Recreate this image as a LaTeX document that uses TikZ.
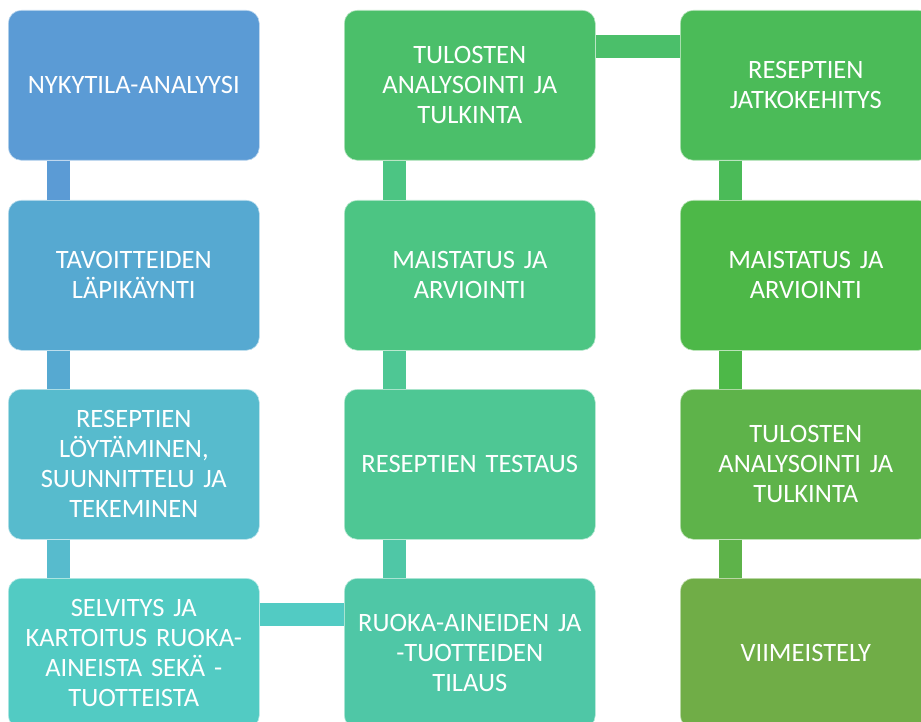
\documentclass[tikz,border=0pt]{standalone}
\usepackage{fontspec}
\setmainfont{Carlito}
\definecolor{stepA}{HTML}{5B9BD5}
\definecolor{stepB}{HTML}{56A9D1}
\definecolor{stepC}{HTML}{57BBCD}
\definecolor{stepD}{HTML}{52CBC3}
\definecolor{stepE}{HTML}{4FC7A6}
\definecolor{stepF}{HTML}{4EC794}
\definecolor{stepG}{HTML}{4CC583}
\definecolor{stepH}{HTML}{4BBF6A}
\definecolor{stepI}{HTML}{4BBB58}
\definecolor{stepJ}{HTML}{4DB848}
\definecolor{stepK}{HTML}{5EB34A}
\definecolor{stepL}{HTML}{70AD47}
\tikzset{
  stage/.style={fill=#1, draw=white!60!#1, line width=0.6pt, rounded corners=13pt,
    anchor=north west, minimum width=251pt, minimum height=150pt,
    text width=240pt, align=center, text=white, inner sep=0pt,
    font=\fontsize{26.5}{30}\selectfont},
  bar/.style={draw=#1, line width=23pt}
}

\begin{document}
\begin{tikzpicture}[x=1pt, y=-1pt]
    \useasboundingbox (0,0) rectangle (921,722);
    % Column 1, top to bottom
    \node[stage=stepA] (analyysi) at (8,10) {NYKYTILA-ANALYYSI};
    \node[stage=stepB] (tavoitteet) at (8,200) {TAVOITTEIDEN\\LÄPIKÄYNTI};
    \node[stage=stepC] (reseptit) at (8,389) {RESEPTIEN\\LÖYTÄMINEN,\\SUUNNITTELU JA\\TEKEMINEN};
    \node[stage=stepD] (selvitys) at (8,578) {SELVITYS JA\\KARTOITUS RUOKA-\\AINEISTA SEKÄ -\\TUOTTEISTA};
    % Column 2, bottom to top
    \node[stage=stepE] (tilaus) at (344,578) {RUOKA-AINEIDEN JA\\-TUOTTEIDEN\\TILAUS};
    \node[stage=stepF] (testaus) at (344,389) {RESEPTIEN TESTAUS};
    \node[stage=stepG] (maistatus) at (344,200) {MAISTATUS JA\\ARVIOINTI};
    \node[stage=stepH] (tulokset) at (344,10) {TULOSTEN\\ANALYSOINTI JA\\TULKINTA};
    % Column 3, top to bottom
    \node[stage=stepI] (jatko) at (680,10) {RESEPTIEN\\JATKOKEHITYS};
    \node[stage=stepJ] (maistatus2) at (680,200) {MAISTATUS JA\\ARVIOINTI};
    \node[stage=stepK] (tulokset2) at (680,389) {TULOSTEN\\ANALYSOINTI JA\\TULKINTA};
    \node[stage=stepL] (viimeistely) at (680,578) {VIIMEISTELY};
    % Bars between the boxes
    \draw[bar=stepA] ([xshift=50.5pt]analyysi.south west) -- ([xshift=50.5pt]tavoitteet.north west);
    \draw[bar=stepB] ([xshift=50.5pt]tavoitteet.south west) -- ([xshift=50.5pt]reseptit.north west);
    \draw[bar=stepC] ([xshift=50.5pt]reseptit.south west) -- ([xshift=50.5pt]selvitys.north west);
    \draw[bar=stepD] ([yshift=-36.5pt]selvitys.north east) -- ([yshift=-36.5pt]tilaus.north west);
    \draw[bar=stepE] ([xshift=50pt]tilaus.north west) -- ([xshift=50pt]testaus.south west);
    \draw[bar=stepF] ([xshift=50pt]testaus.north west) -- ([xshift=50pt]maistatus.south west);
    \draw[bar=stepG] ([xshift=50pt]maistatus.north west) -- ([xshift=50pt]tulokset.south west);
    \draw[bar=stepH] ([yshift=-36.5pt]tulokset.north east) -- ([yshift=-36.5pt]jatko.north west);
    \draw[bar=stepI] ([xshift=50pt]jatko.south west) -- ([xshift=50pt]maistatus2.north west);
    \draw[bar=stepJ] ([xshift=50pt]maistatus2.south west) -- ([xshift=50pt]tulokset2.north west);
    \draw[bar=stepK] ([xshift=50pt]tulokset2.south west) -- ([xshift=50pt]viimeistely.north west);
\end{tikzpicture}
\end{document}
